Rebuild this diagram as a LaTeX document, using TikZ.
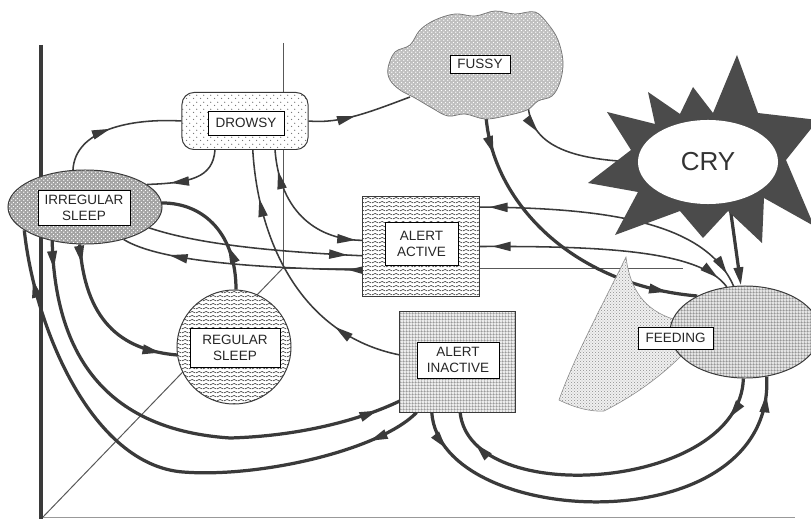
\documentclass[tikz,border=0pt]{standalone}
\usepackage{fontspec}
\setmainfont{Liberation Sans}
\usetikzlibrary{shapes.geometric,arrows.meta,decorations.markings,patterns,patterns.meta}
\pgfdeclarelayer{axes}
\pgfdeclarelayer{conn}
\pgfsetlayers{axes,conn,main}
\definecolor{ink}{HTML}{3A3A3A}
\definecolor{starc}{HTML}{4B4B4B}
\tikzdeclarepattern{name=ddots, type=uncolored, bounding box={(0pt,0pt) and (4.7pt,4.7pt)}, tile size={(4.7pt,4.7pt)},
  code={\fill (1.175pt,1.175pt) circle (0.45pt); \fill (3.525pt,3.525pt) circle (0.45pt);}}
\tikzdeclarepattern{name=speck, type=uncolored, bounding box={(0pt,0pt) and (2.6pt,2.6pt)}, tile size={(2.6pt,2.6pt)},
  code={\fill (0.65pt,0.65pt) circle (0.55pt); \fill (1.95pt,1.95pt) circle (0.55pt);}}
\tikzdeclarepattern{name=finedots, type=uncolored, bounding box={(0pt,0pt) and (2pt,2pt)}, tile size={(2pt,2pt)},
  code={\fill (0.5pt,0.5pt) circle (0.32pt); \fill (1.5pt,1.5pt) circle (0.32pt);}}
\tikzdeclarepattern{name=fgrid, type=uncolored, bounding box={(0pt,0pt) and (2.3pt,2.3pt)}, tile size={(2.3pt,2.3pt)},
  code={\fill (0pt,0pt) rectangle (2.3pt,0.35pt); \fill (0pt,0pt) rectangle (0.35pt,2.3pt);}}
\tikzdeclarepattern{name=zwave, type=uncolored, bounding box={(0pt,0pt) and (5pt,3pt)}, tile size={(5pt,3pt)},
  code={\draw[line width=0.5pt] (0pt,0.9pt) -- (2.5pt,2.1pt) -- (5pt,0.9pt);}}
\tikzset{
  conn/.style={color=ink, line width=1.1pt},
  tconn/.style={color=ink, line width=2.3pt},
  fwd/.style={postaction={decorate, decoration={markings, mark=at position #1 with {\arrow{Triangle[length=13pt,width=6.5pt]}}}}},
  bwd/.style={postaction={decorate, decoration={markings, mark=at position #1 with {\arrowreversed{Triangle[length=13pt,width=6.5pt]}}}}},
  shp/.style={draw=ink, line width=0.7pt, inner sep=0pt},
  lbl/.style={draw=black, line width=0.6pt, fill=white, inner sep=0pt, align=center, text=black!85,
    font=\fontsize{9.6}{11.4}\selectfont},
  axthin/.style={draw=ink!85, line width=0.7pt},
}
\begin{document}
\begin{tikzpicture}[x=0.025cm, y=-0.025cm]
\useasboundingbox (0,0) rectangle (811,519);
\begin{pgfonlayer}{axes}
\fill[white] (0,0) rectangle (811,519);
\draw[axthin, draw=gray!80] (41,517) -- (795,517);
\draw[axthin] (283,43) -- (283,268) -- (683,268);
\draw[axthin] (43,517) -- (283,268);
\draw[color=ink, line width=2.6pt] (41,45) -- (41,519);
\end{pgfonlayer}

% CRY star burst
\fill[starc] (737,55) -- (758,113) -- (818,120) -- (786,160) -- (814,226) -- (764,198) -- (762,243)
  -- (728,211) -- (703,238) -- (680,211) -- (615,235) -- (638,192) -- (588,183) -- (631,150)
  -- (607,112) -- (655,124) -- (648,92) -- (680,114) -- (693,87) -- (713,113) -- cycle;
% FUSSY cloud
\path[draw=ink!70, line width=0.5pt, preaction={fill=gray!50}, pattern=speck, pattern color=white]
  plot[smooth cycle, tension=0.6] coordinates {(388,68) (395,52) (410,45) (420,30) (435,20) (455,14) (475,16)
  (495,11) (515,14) (535,12) (548,24) (558,40) (563,62) (560,82) (552,96) (538,101) (527,110) (505,116)
  (485,119) (465,114) (448,116) (432,108) (415,98) (400,90) (390,80)};
\coordinate (fussyW) at (410,97);
\coordinate (fussyS) at (486,116);
\coordinate (fussySE) at (528,104);
% breast
\path[draw=ink!60, line width=0.4pt, preaction={fill=gray!12}, pattern=finedots, pattern color=gray!75!black]
  (626,257) .. controls (605,300) and (575,355) .. (559,400) .. controls (575,408) and (592,412) .. (604,411)
  .. controls (630,398) and (660,378) .. (685,352) -- (690,330) -- (673,319)
  .. controls (645,310) and (630,290) .. (626,257) -- cycle;

% state shapes
\node[shp, rectangle, rounded corners=0.3cm, minimum width=3.15cm, minimum height=1.425cm,
  preaction={fill=white}, pattern=ddots, pattern color=gray!85!black] (drowsy) at (245,121) {};
\node[shp, ellipse, minimum width=3.85cm, minimum height=1.85cm,
  preaction={fill=gray!72}, pattern=speck, pattern color=white] (irr) at (85,207) {};
\node[shp, rectangle, minimum width=2.9cm, minimum height=2.475cm,
  preaction={fill=white}, pattern=zwave, pattern color=ink] (aa) at (421,246.5) {};
\node[shp, circle, minimum size=2.85cm,
  preaction={fill=white}, pattern=zwave, pattern color=ink] (reg) at (234,347) {};
\node[shp, rectangle, minimum width=2.875cm, minimum height=2.5cm,
  preaction={fill=gray!15}, pattern=fgrid, pattern color=gray!75!black] (ai) at (457.5,362) {};
\node[shp, ellipse, minimum width=3.75cm, minimum height=2.3cm,
  preaction={fill=gray!22}, pattern=fgrid, pattern color=gray!75!black] (feed) at (745,332) {};
\node[ellipse, fill=white, inner sep=0pt, minimum width=3.5cm, minimum height=2.1cm, text=black!80,
  font=\fontsize{18.5}{20}\selectfont] (cry) at (708,162) {CRY};

% labels
\node[lbl, minimum width=1.9cm, minimum height=0.6cm] (drowsyL) at (246,123) {DROWSY};
\node[lbl, minimum width=2.3cm, minimum height=0.875cm] (irrL) at (84,207.5) {IRREGULAR\\SLEEP};
\node[lbl, minimum width=1.5cm, minimum height=0.45cm] (fussyL) at (480,64) {FUSSY};
\node[lbl, minimum width=1.825cm, minimum height=1.075cm] (aaL) at (421.5,243.5) {ALERT\\ACTIVE};
\node[lbl, minimum width=2.25cm, minimum height=0.975cm] (regL) at (235,347.5) {REGULAR\\SLEEP};
\node[lbl, minimum width=2.05cm, minimum height=0.9cm] (aiL) at (458,360) {ALERT\\INACTIVE};
\node[lbl, minimum width=1.875cm, minimum height=0.55cm] (feedL) at (675.5,338) {FEEDING};

\begin{pgfonlayer}{conn}
% drowsy / irregular / fussy
\draw[conn, fwd=0.45] (irr.108) .. controls (75,130) and (130,118) .. (drowsy.west);
\draw[conn, fwd=0.72] (drowsy.224) .. controls (213,178) and (190,183) .. (irr.20);
\draw[conn, fwd=0.45] (drowsy.east) .. controls (340,124) and (370,112) .. (fussyW);
\draw[conn, fwd=0.22] (fussySE) .. controls (530,145) and (570,160) .. (cry.west);
\draw[tconn, fwd=0.13, fwd=0.9] (fussyS) .. controls (492,200) and (570,285) .. (feed.143);
% alert active <-> feeding
\draw[conn, bwd=0.035, fwd=0.95] (aa.34) .. controls (600,208) and (705,220) .. (feed.104);
\draw[conn, bwd=0.05, fwd=0.95] (aa.east) .. controls (600,246) and (700,250) .. (feed.112);
\draw[tconn, -{Triangle[length=13pt,width=6.5pt]}] (cry.-62) -- (feed.95);
% regular / irregular / alert active
\draw[tconn, fwd=0.35] (reg.88) .. controls (236,235) and (205,203) .. (irr.3);
\draw[conn, fwd=0.93] (irr.-18) .. controls (200,245) and (280,252) .. (aa.189);
\draw[conn, fwd=0.06, fwd=0.8] (aa.202) .. controls (260,268) and (160,262) .. (irr.-40);
\draw[conn, bwd=0.15, fwd=0.95] (drowsy.-44) .. controls (280,215) and (320,240) .. (aa.174);
\draw[conn, fwd=0.26, fwd=0.82] (ai.173) .. controls (300,335) and (258,240) .. (drowsy.-75);
\draw[tconn, fwd=0.12, fwd=0.9] (irr.262) .. controls (85,320) and (120,350) .. (reg.188);
% irregular <-> alert inactive
\draw[tconn, fwd=0.06, fwd=0.95] (irr.226) .. controls (55,360) and (110,430) .. (230,438)
  .. controls (300,436) and (360,420) .. (ai.214);
\draw[tconn, fwd=0.1, fwd=0.91] (ai.231) .. controls (380,450) and (260,478) .. (183,472)
  .. controls (93,465) and (35,330) .. (irr.201);
% alert inactive <-> feeding
\draw[tconn, fwd=0.09, fwd=0.96] (ai.243) .. controls (440,530) and (775,545) .. (feed.-64);
\draw[tconn, fwd=0.12, fwd=0.9] (feed.-92) .. controls (740,490) and (470,510) .. (ai.-87);
\end{pgfonlayer}
\end{tikzpicture}
\end{document}
